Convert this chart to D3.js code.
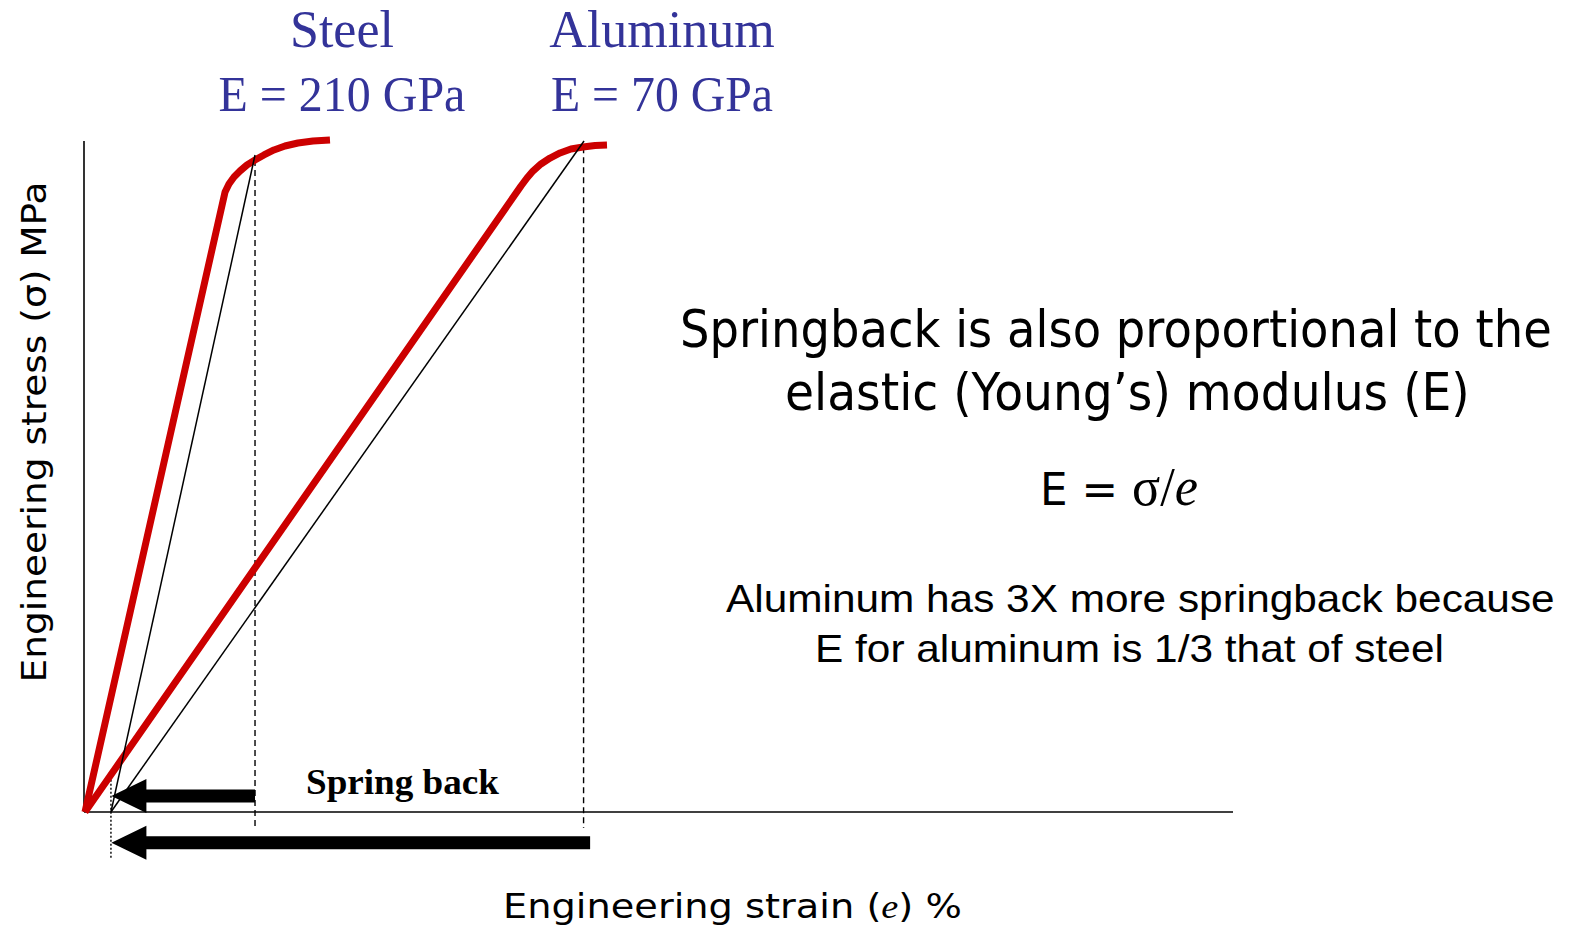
<!DOCTYPE html>
<html>
<head>
<meta charset="utf-8">
<script src="https://cdn.jsdelivr.net/npm/d3@7"></script>
<style>
  body { margin: 0; background: #fff; }
</style>
</head>
<body>
<div id="chart"></div>
<script>
// strain / stress in arbitrary chart units
var steelStrain = [0, 12.2, 12.54, 12.98, 13.5, 14.11, 14.81, 15.59, 16.46, 17.42, 18.55, 19.86, 21.34];
var steelStress = [0, 92.54, 93.73, 94.78, 95.67, 96.57, 97.31, 98.06, 98.81, 99.4, 99.85, 100.15, 100.3];
var alStrain = [0, 37.98, 38.5, 39.02, 39.72, 40.51, 41.38, 42.33, 43.38, 44.43, 45.47];
var alStress = [0, 93.43, 94.63, 95.67, 96.72, 97.61, 98.36, 98.96, 99.25, 99.48, 99.55];

// elastic unloading lines (start, end)
var unloadStrain = 2.26;
var steelUnloadTop = [14.81, 98.06];
var alUnloadTop = [43.47, 100.15];

// dashed/dotted guide lines [strain, top, bottom]
var steelGuide = [14.81, 97.3, -2.4];
var alGuide = [43.43, 99.2, -2.4];
var residualGuide = [2.26, 4.8, -6.9];

// spring back arrows [fromStrain, toStrain, level]
var arrows = [[14.81, 2.3, 2.4], [44.0, 2.3, -4.6]];

var materials = ["Steel", "Aluminum"];
var moduli = ["E = 210 GPa", "E = 70 GPa"];

const width = 1571, height = 929;

var svg = d3.select("#chart")
    .append("svg")
        .attr("width", width)
        .attr("height", height);

var xScale = d3.scaleLinear().domain([0, 100]).range([85, 1233]);
var yScale = d3.scaleLinear().domain([0, 100]).range([812, 142]);

// squeeze a text horizontally so it fills a given width
function fitWidth(sel, x, y, w, anchor) {
    var natural = sel.node().getComputedTextLength();
    var k = w / natural;
    var x0 = anchor === "middle" ? x - w / 2 : x;
    sel.attr("x", null).attr("y", null)
       .attr("transform", "translate(" + x0 + "," + y + ") scale(" + k + ",1)");
}

// axes (lines only, no ticks)
svg.append("g")
    .attr("transform", "translate(0,812)")
    .call(d3.axisBottom(xScale).tickValues([]).tickSizeOuter(0))
    .call(g => g.select(".domain").attr("stroke", "#000").attr("stroke-width", 1.6)
        .attr("d", "M84,0H1233"));
svg.append("g")
    .attr("transform", "translate(84,0)")
    .call(d3.axisLeft(yScale).tickValues([]).tickSizeOuter(0))
    .call(g => g.select(".domain").attr("stroke", "#000").attr("stroke-width", 1.6)
        .attr("d", "M0,812V141"));

var line = d3.line()
    .x(d => xScale(d[0]))
    .y(d => yScale(d[1]));

// guides
[steelGuide, alGuide].forEach(function(gd){
    svg.append("line")
        .attr("x1", xScale(gd[0])).attr("x2", xScale(gd[0]))
        .attr("y1", yScale(gd[1])).attr("y2", yScale(gd[2]))
        .attr("stroke", "#000").attr("stroke-width", 1.4)
        .attr("stroke-dasharray", "6,4");
});
svg.append("line")
    .attr("x1", xScale(residualGuide[0])).attr("x2", xScale(residualGuide[0]))
    .attr("y1", yScale(residualGuide[1])).attr("y2", yScale(residualGuide[2]))
    .attr("stroke", "#000").attr("stroke-width", 1.4)
    .attr("stroke-dasharray", "2,2");

// red stress-strain curves
var steelData = steelStrain.map((s, i) => [s, steelStress[i]]);
var alData = alStrain.map((s, i) => [s, alStress[i]]);
[steelData, alData].forEach(function(d){
    svg.append("path")
        .datum(d)
        .attr("d", line)
        .attr("fill", "none")
        .attr("stroke", "#cc0000")
        .attr("stroke-width", 7)
        .attr("stroke-linejoin", "round");
});

// unloading lines
[steelUnloadTop, alUnloadTop].forEach(function(t){
    svg.append("path")
        .datum([[unloadStrain, 0], t])
        .attr("d", line)
        .attr("fill", "none")
        .attr("stroke", "#000")
        .attr("stroke-width", 1.5);
});

// spring back arrows
arrows.forEach(function(a){
    var x0 = xScale(a[0]), x1 = xScale(a[1]), y = yScale(a[2]);
    var head = 35, half = 17, shaft = 6.5;
    var pts = [[x0, y - shaft], [x1 + head, y - shaft], [x1 + head, y - half], [x1, y],
               [x1 + head, y + half], [x1 + head, y + shaft], [x0, y + shaft]];
    svg.append("path")
        .attr("d", "M" + pts.join("L") + "Z")
        .attr("fill", "#000");
});

var sb = svg.append("text")
    .style("font-family", "'Liberation Serif', serif")
    .style("font-weight", "bold")
    .style("font-size", "36px")
    .text("Spring back");
fitWidth(sb, 306, 794, 193);

// material labels
var labelX = [342, 662];
var moduliW = [247, 222];
materials.forEach(function(m, i){
    svg.append("text")
        .attr("x", labelX[i]).attr("y", 47)
        .attr("text-anchor", "middle")
        .style("font-family", "'Liberation Serif', serif")
        .style("font-size", "52px")
        .style("fill", "#333399")
        .text(m);
    var t = svg.append("text")
        .style("font-family", "'Liberation Serif', serif")
        .style("font-size", "51px")
        .style("fill", "#333399")
        .text(moduli[i]);
    fitWidth(t, labelX[i], 111, moduliW[i], "middle");
});

// axis labels
var yLab = svg.append("text")
    .attr("transform", "translate(46,432) rotate(-90)")
    .attr("text-anchor", "middle")
    .style("font-family", "'DejaVu Sans', sans-serif")
    .style("font-size", "34px")
    .attr("textLength", 501)
    .attr("lengthAdjust", "spacingAndGlyphs")
    .text("Engineering stress (σ) MPa");

var xLab = svg.append("text")
    .style("font-family", "'DejaVu Sans', sans-serif")
    .style("font-size", "34px");
xLab.append("tspan").text("Engineering strain (");
xLab.append("tspan").style("font-family", "'Liberation Serif', serif").style("font-style", "italic").text("e");
xLab.append("tspan").text(") %");
fitWidth(xLab, 503, 918, 459);

// explanation text
var note = [
    {t: "Springback is also proportional to the", x: 680, y: 347, w: 872},
    {t: "elastic (Young\u2019s) modulus (E)", x: 785, y: 410, w: 685}
];
note.forEach(function(n){
    var t = svg.append("text")
        .style("font-family", "'DejaVu Sans', sans-serif")
        .style("font-size", "51px")
        .text(n.t);
    fitWidth(t, n.x, n.y, n.w);
});

var eq = svg.append("text")
    .style("font-family", "'DejaVu Sans', sans-serif")
    .style("font-size", "45px");
eq.append("tspan").text("E = ");
eq.append("tspan").style("font-family", "'Liberation Serif', serif").style("font-size", "54px").text("σ/");
eq.append("tspan").style("font-family", "'Liberation Serif', serif").style("font-size", "54px").style("font-style", "italic").text("e");
fitWidth(eq, 1040, 505, 158);

var note2 = [
    {t: "Aluminum has 3X more springback because", x: 726, y: 612, w: 829},
    {t: "E for aluminum is 1/3 that of steel", x: 815, y: 662, w: 629}
];
note2.forEach(function(n){
    var t = svg.append("text")
        .style("font-family", "'Liberation Sans', Arial, sans-serif")
        .style("font-size", "39px")
        .text(n.t);
    fitWidth(t, n.x, n.y, n.w);
});
</script>
</body>
</html>
